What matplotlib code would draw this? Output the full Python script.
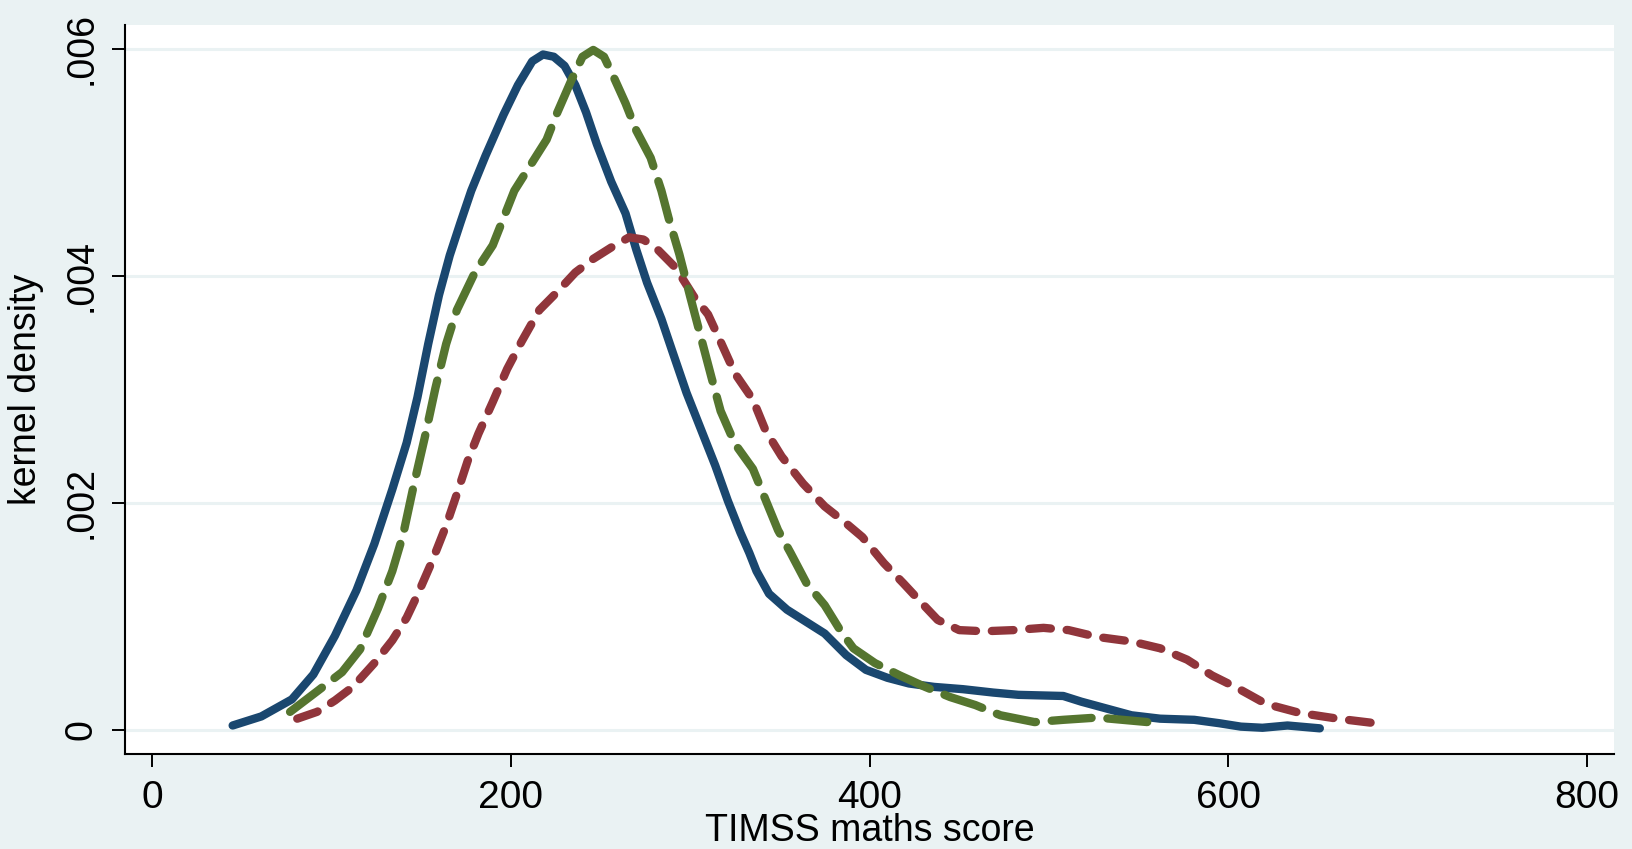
import matplotlib
matplotlib.use("Agg")
import matplotlib.pyplot as plt

# kernel density curves of TIMSS maths score
navy_x = [45, 61, 78, 90, 102, 114, 124, 134, 142, 148, 154, 160, 166, 172, 178, 186, 196, 204,
          212, 218, 224, 230, 236, 242, 248, 256, 264, 270, 276, 284, 290, 298, 306, 314, 321,
          328, 333, 337, 344, 354, 365, 375, 387, 398, 410, 422, 436, 452, 469, 483, 508, 518,
          532, 546, 562, 581, 595, 607, 619, 633, 651]
navy_y = [.00004, .00012, .00027, .00049, .00083, .00123, .00164, .00212, .00253, .00293, .00340,
          .00383, .00418, .00447, .00475, .00506, .00542, .00568, .00589, .00595, .00593, .00585,
          .00568, .00544, .00516, .00483, .00455, .00423, .00394, .00362, .00334, .00297, .00265,
          .00233, .00202, .00174, .00156, .00140, .00120, .00106, .00095, .00085, .00066, .00053,
          .00046, .00041, .00038, .00036, .00033, .00031, .00030, .00025, .00019, .00013, .00010,
          .00009, .00006, .00003, .00002, .00004, .000015]

green_x = [77, 92, 106, 116, 126, 134, 140, 146, 152, 158, 164, 170, 180, 190, 196, 202, 212, 220,
           226, 234, 240, 246, 252, 258, 264, 270, 278, 284, 288, 294, 300, 306, 312, 317, 325,
           335, 342, 349, 356, 365, 375, 384, 391, 403, 417, 431, 445, 459, 473, 492, 508, 527,
           541, 555]
green_y = [.00016, .00034, .00051, .00071, .00107, .00140, .00172, .00216, .00257, .00301, .00340,
           .00370, .00403, .00427, .00451, .00475, .00500, .00520, .00544, .00573, .00593, .00599,
           .00593, .00573, .00552, .00528, .00504, .00475, .00451, .00419, .00382, .00346, .00310,
           .00281, .00252, .00230, .00203, .00176, .00156, .00129, .00110, .00087, .00072, .00059,
           .00048, .00038, .00029, .00022, .00013, .00007, .00009, .00011, .00009, .00007]

red_x = [81, 92, 102, 112, 124, 134, 142, 148, 156, 164, 170, 176, 182, 190, 198, 206, 216, 226,
         236, 246, 256, 266, 274, 282, 292, 302, 310, 317, 325, 335, 342, 351, 363, 375, 387, 396,
         408, 419, 429, 438, 450, 464, 480, 497, 511, 527, 546, 562, 577, 591, 605, 621, 640, 661,
         682]
red_y = [.00010, .00016, .00026, .00038, .00059, .00079, .00099, .00119, .00148, .00180, .00208,
         .00237, .00261, .00289, .00318, .00342, .00370, .00386, .00403, .00415, .00425, .00434,
         .00432, .00423, .00407, .00382, .00366, .00342, .00314, .00291, .00264, .00241, .00217,
         .00197, .00182, .00170, .00147, .00129, .00112, .00097, .00088, .00087, .00088, .00090,
         .00088, .00082, .00078, .00072, .00062, .00048, .00037, .00023, .00015, .00010, .00006]

x_ticks = [0, 200, 400, 600, 800]
y_ticks = [0, .002, .004, .006]
y_tick_labels = ["0", ".002", ".004", ".006"]

BG = "#EAF2F3"
plt.rcParams["font.family"] = ["Liberation Sans", "DejaVu Sans"]

fig = plt.figure(figsize=(16.32, 8.49), dpi=100, facecolor=BG)
ax = fig.add_axes([0.0766, 0.1119, 0.9124, 0.8587])
ax.set_facecolor("white")

# stata-like lines: solid navy, long-dash green, short-dash maroon
ax.plot(navy_x, navy_y, color="#1A476F", lw=6, solid_capstyle="round",
        solid_joinstyle="round", zorder=3)
ax.plot(red_x, red_y, color="#90353B", lw=6, dashes=(2.6, 1.9), dash_capstyle="round",
        dash_joinstyle="round", zorder=4)
ax.plot(green_x, green_y, color="#55752F", lw=6, dashes=(4.8, 1.9), dash_capstyle="round",
        dash_joinstyle="round", zorder=5)

ax.set_xlim(-15, 815)
ax.set_ylim(-0.000211, 0.00621)
ax.set_xticks(x_ticks)
ax.set_yticks(y_ticks)
ax.set_yticklabels(y_tick_labels)

ax.grid(axis="y", color=BG, lw=2.2, zorder=1)
ax.set_axisbelow(True)

for side in ["top", "right"]:
    ax.spines[side].set_visible(False)
for side in ["left", "bottom"]:
    ax.spines[side].set_linewidth(1.5)
    ax.spines[side].set_color("black")

ax.tick_params(axis="x", length=9.4, width=1.4, pad=9, labelsize=28)
ax.tick_params(axis="y", length=9.4, width=1.4, pad=9, labelsize=27, labelrotation=90)
for lab in ax.get_yticklabels():
    lab.set_va("center")

ax.set_xlabel("TIMSS maths score", fontsize=27, labelpad=-2)
ax.set_ylabel("kernel density", fontsize=27, labelpad=14)

fig.savefig("out.png", dpi=100, facecolor=BG)
